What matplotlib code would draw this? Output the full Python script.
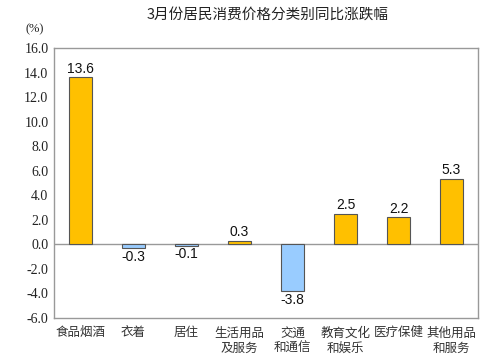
import matplotlib
matplotlib.use("Agg")
import matplotlib.pyplot as plt
import numpy as np

categories = ["食品烟酒", "衣着", "居住", "生活用品\n及服务", "交通\n和通信", "教育文化\n和娱乐", "医疗保健", "其他用品\n和服务"]
values = [13.6, -0.3, -0.1, 0.3, -3.8, 2.5, 2.2, 5.3]
yticks = [-6.0, -4.0, -2.0, 0.0, 2.0, 4.0, 6.0, 8.0, 10.0, 12.0, 14.0, 16.0]
title = "3月份居民消费价格分类别同比涨跌幅"

plt.rcParams['font.family'] = ['Noto Sans CJK SC', 'DejaVu Sans']

fig = plt.figure(figsize=(4.91, 3.64), dpi=100)
ax = fig.add_axes([54/491, 1-318/364, (478-54)/491, (318-48)/364])

x = np.arange(len(values))
colors = ['#FFC000' if v >= 0 else '#99CCFF' for v in values]
ax.bar(x, values, width=0.42, color=colors, edgecolor='#555555', linewidth=0.8, zorder=3)
ax.axhline(0, color='#999999', linewidth=1.0, zorder=2)

for xi, v in zip(x, values):
    if v >= 0:
        ax.text(xi, v + 0.15, f"{v:.1f}", ha='center', va='bottom', fontsize=10,
                family=['Liberation Sans'], color='#111111')
    else:
        ax.text(xi, v - 0.15, f"{v:.1f}", ha='center', va='top', fontsize=10,
                family=['Liberation Sans'], color='#111111')

ax.set_xlim(-0.5, len(values) - 0.5)
ax.set_ylim(-6, 16)
ax.set_yticks(yticks)
ax.set_yticklabels([f"{t:.1f}" for t in yticks])
ax.set_xticks(x)
ax.set_xticklabels(categories, fontsize=9, color='#333333', linespacing=1.25)
ax.tick_params(axis='both', length=0, pad=6)
ax.tick_params(axis='y', pad=4, labelsize=10, labelcolor='#222222', labelfontfamily='Liberation Serif')
for s in ax.spines.values():
    s.set_color('#999999')
    s.set_linewidth(1.0)

fig.text(35/491, 1-29/364, "(%)", ha='center', va='center', fontsize=9,
         family=['Liberation Serif'], color='#222222')
fig.text(268/491, 1-15/364, title, ha='center', va='center', fontsize=10.5, color='#222222')

fig.savefig("out.png", dpi=100)
